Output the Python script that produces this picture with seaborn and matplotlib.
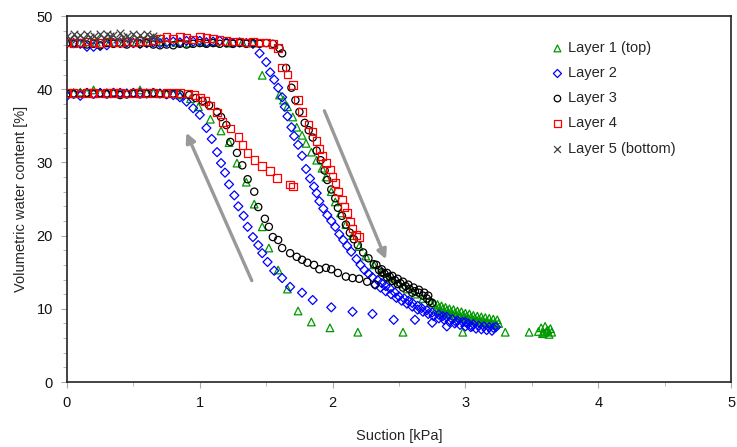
import pandas as pd
import seaborn as sns
import matplotlib.pyplot as plt
from matplotlib.ticker import MultipleLocator

# Layer 1 (top) - drying branch
l1_dry_s = [0.02, 0.12, 0.22, 0.32, 0.42, 0.52, 0.62, 0.72, 0.82, 0.92, 1.02, 1.12, 1.22, 1.32, 1.40,
            1.47, 1.60, 1.63, 1.66, 1.70, 1.73, 1.77, 1.80, 1.84, 1.88, 1.92, 1.95, 1.99, 2.02, 2.06,
            2.10, 2.15, 2.20, 2.25, 2.31, 2.37, 2.43, 2.50, 2.56, 2.62, 2.68, 2.74, 2.80, 2.83, 2.86,
            2.89, 2.92, 2.95, 2.98, 3.01, 3.04, 3.07, 3.10, 3.13, 3.16, 3.19, 3.22, 3.25]
l1_dry_w = [46.4, 46.3, 46.4, 46.4, 46.3, 46.4, 46.4, 46.5, 46.4, 46.3, 46.4, 46.4, 46.3, 46.4, 46.3,
            41.9, 39.2, 38.5, 37.6, 36.2, 34.8, 33.7, 32.6, 31.4, 30.3, 29.2, 28.0, 26.0, 24.6, 23.1,
            21.5, 20.0, 18.5, 17.2, 16.0, 15.0, 14.2, 13.4, 12.7, 12.0, 11.4, 10.8, 10.2, 10.0, 9.8,
            9.6, 9.4, 9.3, 9.1, 9.0, 8.8, 8.7, 8.6, 8.5, 8.3, 8.2, 8.1, 8.0]
# dense tail of the layer 1 drying readings
l1_tail_s = [2.76, 2.79, 2.82, 2.85, 2.88, 2.91, 2.94, 2.97, 3.00, 3.03, 3.06, 3.09, 3.12, 3.15, 3.18,
             3.21, 3.24, 2.775, 2.805, 2.835, 2.865, 2.895, 2.925, 2.955, 2.985, 3.015, 3.045, 3.075,
             3.105, 3.135, 3.165, 3.195, 3.225]
l1_tail_w = [10.8, 10.6, 10.4, 10.2, 10.0, 9.9, 9.7, 9.6, 9.4, 9.3, 9.1, 9.0, 8.9, 8.8, 8.7,
             8.6, 8.5, 9.9, 9.7, 9.5, 9.3, 9.1, 9.0, 8.8, 8.7, 8.6, 8.4, 8.3,
             8.2, 8.1, 8.0, 7.9, 7.8]
# Layer 1 (top) - wetting branch
l1_wet_s = [0.00, 0.05, 0.10, 0.15, 0.20, 0.25, 0.30, 0.35, 0.40, 0.45, 0.50, 0.55, 0.60, 0.65, 0.70,
            0.75, 0.80, 0.85, 0.93, 0.99, 1.08, 1.16, 1.22, 1.28, 1.35, 1.41, 1.47, 1.52, 1.59, 1.66,
            1.74, 1.84, 1.98, 2.19, 2.53, 2.98, 3.30, 3.48, 3.55, 3.57, 3.58, 3.59, 3.60, 3.61, 3.62,
            3.63, 3.64, 3.65]
l1_wet_w = [39.5, 39.5, 39.6, 39.5, 39.9, 39.5, 39.5, 39.6, 39.5, 39.5, 39.5, 39.9, 39.5, 39.5, 39.5,
            39.4, 39.4, 39.2, 38.7, 37.6, 35.9, 34.3, 32.7, 29.9, 27.3, 24.3, 21.2, 18.3, 15.3, 12.7,
            9.7, 8.2, 7.4, 6.8, 6.8, 6.8, 6.8, 6.8, 6.9, 7.4, 6.6, 6.7, 7.6, 6.9, 7.1,
            6.5, 7.3, 6.8]

# Layer 2 - drying branch
l2_dry_s = [0.00, 0.05, 0.10, 0.15, 0.20, 0.25, 0.30, 0.35, 0.40, 0.45, 0.50, 0.55, 0.60, 0.65, 0.70,
            0.75, 0.80, 0.85, 0.90, 0.95, 1.00, 1.05, 1.10, 1.15, 1.20, 1.25, 1.30, 1.35, 1.40,
            1.45, 1.50, 1.53, 1.56, 1.59, 1.62, 1.64, 1.66, 1.69, 1.71, 1.74, 1.77, 1.80, 1.83, 1.86,
            1.88, 1.90, 1.93, 1.96, 1.99, 2.02, 2.05, 2.08, 2.11, 2.14, 2.18, 2.21, 2.24, 2.27, 2.30,
            2.34, 2.37, 2.40, 2.43, 2.47, 2.50, 2.54, 2.57, 2.60, 2.64, 2.67, 2.71, 2.75, 2.80, 2.83,
            2.86, 2.90, 2.94, 2.98, 3.02, 3.06, 3.10, 3.14, 3.18, 3.21, 3.23]
l2_dry_w = [46.3, 46.3, 46.2, 45.8, 45.8, 45.9, 46.0, 46.3, 46.3, 46.4, 46.3, 46.2, 46.3, 46.4, 46.3,
            46.4, 46.5, 46.4, 46.6, 46.5, 46.6, 46.4, 46.5, 46.6, 46.4, 46.3, 46.4, 46.3, 46.2,
            44.9, 43.7, 42.3, 41.3, 40.2, 38.9, 37.6, 36.3, 34.8, 33.6, 32.4, 30.9, 29.1, 27.8, 26.7,
            25.8, 24.7, 23.7, 22.8, 22.0, 21.2, 20.2, 19.4, 18.6, 17.8, 16.8, 16.0, 15.3, 14.8, 14.3,
            13.9, 13.5, 13.1, 12.8, 12.2, 11.7, 11.4, 11.1, 10.8, 10.4, 10.1, 9.8, 9.5, 9.2, 9.0,
            8.9, 8.6, 8.4, 8.2, 8.0, 7.9, 7.7, 7.6, 7.5, 7.4, 7.5]
# dense tail of the layer 2 drying readings
l2_tail_s = [2.32, 2.36, 2.40, 2.44, 2.48, 2.52, 2.56, 2.60, 2.64, 2.68, 2.72, 2.76, 2.80, 2.84, 2.88,
             2.92, 2.96, 3.00, 3.04, 3.08, 3.12, 3.16, 3.20]
l2_tail_w = [13.3, 12.9, 12.4, 12.0, 11.5, 11.1, 10.7, 10.3, 9.9, 9.6, 9.3, 9.0, 8.7, 8.5, 8.2,
             8.0, 7.8, 7.6, 7.5, 7.3, 7.2, 7.1, 7.0]
# Layer 2 - wetting branch
l2_wet_s = [0.00, 0.05, 0.10, 0.15, 0.20, 0.25, 0.30, 0.35, 0.40, 0.45, 0.50, 0.55, 0.60, 0.65, 0.70,
            0.75, 0.80, 0.85, 0.90, 0.95, 1.00, 1.05, 1.09, 1.13, 1.16, 1.19, 1.22, 1.26, 1.29, 1.33,
            1.36, 1.40, 1.44, 1.47, 1.51, 1.56, 1.62, 1.68, 1.77, 1.85, 1.99, 2.15, 2.30, 2.46, 2.62,
            2.75, 2.86, 2.93, 3.00, 3.05]
l2_wet_w = [39.1, 39.4, 39.1, 39.5, 39.4, 39.5, 39.4, 39.5, 39.5, 39.4, 39.5, 39.5, 39.4, 39.5, 39.4,
            39.3, 39.2, 38.9, 38.3, 37.4, 36.5, 34.7, 33.2, 31.4, 29.9, 28.6, 27.0, 25.5, 24.0, 22.7,
            21.2, 19.8, 18.7, 17.6, 16.4, 15.2, 14.2, 13.0, 12.2, 11.2, 10.2, 9.6, 9.3, 8.5, 8.5,
            8.1, 7.6, 8.2, 8.2, 7.6]

# Layer 3 - drying branch
l3_dry_s = [0.00, 0.05, 0.10, 0.15, 0.20, 0.25, 0.30, 0.35, 0.40, 0.45, 0.50, 0.55, 0.60, 0.65, 0.70,
            0.75, 0.80, 0.85, 0.90, 0.95, 1.00, 1.05, 1.10, 1.15, 1.20, 1.25, 1.30, 1.35, 1.40, 1.45,
            1.50, 1.55, 1.60, 1.62, 1.65, 1.69, 1.72, 1.75, 1.79, 1.82, 1.85, 1.88, 1.91, 1.94, 1.96,
            1.99, 2.02, 2.04, 2.07, 2.10, 2.13, 2.16, 2.19, 2.23, 2.27, 2.31, 2.35, 2.37, 2.39, 2.41,
            2.43, 2.45, 2.47, 2.49, 2.51, 2.53, 2.55, 2.58, 2.60, 2.62, 2.65, 2.68, 2.71, 2.73, 2.75]
l3_dry_w = [46.3, 46.2, 46.3, 46.1, 46.2, 46.0, 46.3, 46.2, 46.3, 46.1, 46.3, 46.2, 46.3, 46.1, 46.0,
            46.1, 46.0, 46.2, 46.1, 46.2, 46.3, 46.2, 46.3, 46.2, 46.3, 46.2, 46.3, 46.2, 46.3, 46.2,
            46.3, 46.2, 45.6, 44.9, 42.9, 40.2, 38.5, 36.9, 35.4, 34.4, 33.4, 31.6, 30.3, 28.9, 27.6,
            26.3, 25.1, 23.8, 22.7, 21.5, 20.4, 19.5, 18.7, 17.7, 16.9, 16.1, 15.3, 15.0, 14.8, 14.3,
            14.4, 13.8, 13.9, 13.4, 13.5, 12.9, 13.1, 12.7, 12.2, 12.4, 12.2, 11.8, 11.4, 11.0, 10.8]
# dense tail of the layer 3 drying readings
l3_tail_s = [2.33, 2.37, 2.41, 2.45, 2.49, 2.53, 2.57, 2.61, 2.65, 2.69, 2.72]
l3_tail_w = [16.0, 15.4, 14.9, 14.5, 14.1, 13.7, 13.3, 12.9, 12.6, 12.2, 11.8]
# Layer 3 - wetting branch
l3_wet_s = [0.00, 0.05, 0.10, 0.15, 0.20, 0.25, 0.30, 0.35, 0.40, 0.45, 0.50, 0.55, 0.60, 0.65, 0.70,
            0.75, 0.80, 0.85, 0.92, 0.97, 1.02, 1.07, 1.13, 1.16, 1.20, 1.23, 1.28, 1.32, 1.36, 1.41,
            1.44, 1.49, 1.52, 1.55, 1.59, 1.62, 1.68, 1.73, 1.77, 1.81, 1.86, 1.90, 1.95, 1.99, 2.04,
            2.10, 2.15, 2.20, 2.26, 2.32]
l3_wet_w = [39.4, 39.3, 39.4, 39.5, 39.3, 39.4, 39.3, 39.4, 39.2, 39.3, 39.4, 39.3, 39.4, 39.5, 39.4,
            39.3, 39.4, 39.3, 39.2, 38.8, 38.4, 37.8, 36.9, 36.2, 35.1, 32.8, 31.3, 29.6, 27.7, 26.0,
            23.9, 22.3, 21.2, 19.8, 19.4, 18.3, 17.6, 17.1, 16.7, 16.3, 16.0, 15.4, 15.6, 15.4, 14.9,
            14.4, 14.2, 14.1, 13.7, 13.3]

# Layer 4 - drying branch
l4_dry_s = [0.00, 0.05, 0.10, 0.15, 0.20, 0.25, 0.30, 0.35, 0.40, 0.45, 0.50, 0.55, 0.60, 0.65, 0.70,
            0.75, 0.80, 0.85, 0.90, 0.95, 1.00, 1.05, 1.10, 1.15, 1.20, 1.25, 1.30, 1.35, 1.40, 1.45,
            1.50, 1.55, 1.59, 1.62, 1.66, 1.70, 1.74, 1.77, 1.82, 1.85, 1.88, 1.90, 1.92, 1.95, 1.98,
            2.00, 2.02, 2.04, 2.07, 2.09, 2.11, 2.13, 2.15, 2.18, 2.20]
l4_dry_w = [46.4, 46.3, 46.4, 46.5, 46.4, 46.3, 46.5, 46.4, 46.4, 46.5, 46.4, 46.6, 46.5, 46.7, 46.9,
            47.1, 46.9, 47.1, 47.0, 46.8, 47.1, 47.0, 46.9, 46.7, 46.6, 46.5, 46.5, 46.4, 46.5, 46.4,
            46.4, 46.2, 45.6, 43.0, 42.0, 40.6, 38.5, 36.9, 35.2, 34.2, 32.9, 31.8, 30.9, 29.9, 29.0,
            28.0, 27.2, 26.0, 24.9, 23.9, 23.1, 21.9, 21.0, 20.1, 19.8]
# Layer 4 - wetting branch
l4_wet_s = [0.00, 0.05, 0.10, 0.15, 0.20, 0.25, 0.30, 0.35, 0.40, 0.45, 0.50, 0.55, 0.60, 0.65, 0.70,
            0.75, 0.80, 0.85, 0.91, 0.96, 1.00, 1.04, 1.08, 1.13, 1.17, 1.23, 1.29, 1.32, 1.36, 1.41,
            1.47, 1.53, 1.58, 1.68, 1.70]
l4_wet_w = [39.5, 39.5, 39.4, 39.5, 39.5, 39.4, 39.5, 39.5, 39.5, 39.4, 39.5, 39.5, 39.5, 39.5, 39.4,
            39.5, 39.5, 39.5, 39.4, 39.2, 38.9, 38.4, 37.8, 36.8, 35.5, 34.6, 33.5, 32.4, 31.3, 30.3,
            29.5, 28.8, 27.9, 27.0, 26.7]

# Layer 5 (bottom) - only the initial saturated readings
l5_s = [0.000, 0.025, 0.050, 0.075, 0.100, 0.125, 0.150, 0.175, 0.200, 0.225, 0.250, 0.275, 0.300, 0.325,
        0.350, 0.375, 0.400, 0.425, 0.450, 0.475, 0.500, 0.525, 0.550, 0.575, 0.600, 0.625, 0.650, 0.675]
l5_w = [47.3, 46.9, 47.5, 47.0, 47.4, 46.9, 47.6, 47.1, 47.3, 46.8, 47.5, 47.0, 47.6, 47.2,
        47.4, 46.9, 47.7, 47.1, 47.3, 46.9, 47.5, 47.0, 47.4, 46.9, 47.5, 47.1, 47.3, 47.0]

layer_names = ['Layer 1 (top)', 'Layer 2', 'Layer 3', 'Layer 4', 'Layer 5 (bottom)']
layer_colors = ['#009900', '#0000ff', '#000000', '#ff0000', '#404040']
layer_markers = ['^', 'D', 'o', 's', 'x']
layer_sizes = [30, 21, 27, 29, 30]

rows = []
for name, s_list, w_list in [
        (layer_names[0], l1_dry_s + l1_tail_s + l1_wet_s, l1_dry_w + l1_tail_w + l1_wet_w),
        (layer_names[1], l2_dry_s + l2_tail_s + l2_wet_s, l2_dry_w + l2_tail_w + l2_wet_w),
        (layer_names[2], l3_dry_s + l3_tail_s + l3_wet_s, l3_dry_w + l3_tail_w + l3_wet_w),
        (layer_names[3], l4_dry_s + l4_wet_s, l4_dry_w + l4_wet_w),
        (layer_names[4], l5_s, l5_w)]:
    for s, w in zip(s_list, w_list):
        rows.append((name, s, w))
df = pd.DataFrame(rows, columns=['Layer', 'Suction', 'Water'])

sns.set_style('ticks')
plt.rcParams['font.family'] = ['Liberation Sans', 'DejaVu Sans']
plt.rcParams['font.size'] = 10

fig = plt.figure(figsize=(7.37, 4.47), dpi=100)
ax = fig.add_axes([0.0909, 0.1454, 0.901, 0.8188])

for name, col, mk, sz in zip(layer_names, layer_colors, layer_markers, layer_sizes):
    sub = df[df['Layer'] == name]
    if mk == 'x':
        sns.scatterplot(data=sub, x='Suction', y='Water', marker=mk, s=sz, color=col,
                        linewidth=0.9, label=name, ax=ax, zorder=3)
    else:
        sns.scatterplot(data=sub, x='Suction', y='Water', marker=mk, s=sz, color=col,
                        facecolor='none', edgecolor=col, linewidth=0.9, label=name, ax=ax, zorder=3)

# wetting / drying direction arrows
ax.annotate('', xy=(0.89, 34.4), xytext=(1.40, 13.5),
            arrowprops=dict(arrowstyle='-|>', color='#999999', lw=2.4, mutation_scale=14))
ax.annotate('', xy=(2.41, 16.4), xytext=(1.93, 37.4),
            arrowprops=dict(arrowstyle='-|>', color='#999999', lw=2.4, mutation_scale=14))

ax.set_xlim(0, 5)
ax.set_ylim(0, 50)
ax.xaxis.set_major_locator(MultipleLocator(1))
ax.xaxis.set_minor_locator(MultipleLocator(0.5))
ax.yaxis.set_major_locator(MultipleLocator(10))
ax.yaxis.set_minor_locator(MultipleLocator(2))
ax.tick_params(which='both', direction='out', color='#aaaaaa', labelsize=10.5, labelcolor='#111111')
ax.tick_params(which='major', length=4, width=0.8)
ax.tick_params(which='minor', length=3, width=0.6)
ax.tick_params(axis='x', pad=6)
ax.tick_params(axis='y', pad=6)
for sp in ax.spines.values():
    sp.set_visible(True)
    sp.set_color('#222222')
    sp.set_linewidth(1.2)

ax.set_xlabel('Suction [kPa]', fontsize=10.5, labelpad=14)
ax.set_ylabel('Volumetric water content [%]', fontsize=10.5, labelpad=6)

ax.legend(loc='upper left', bbox_to_anchor=(0.721, 0.947), frameon=False, fontsize=10.5,
          handlelength=0.8, handletextpad=0.3, labelspacing=0.76, markerscale=0.9,
          borderaxespad=0)

fig.savefig('out.png', dpi=100)
